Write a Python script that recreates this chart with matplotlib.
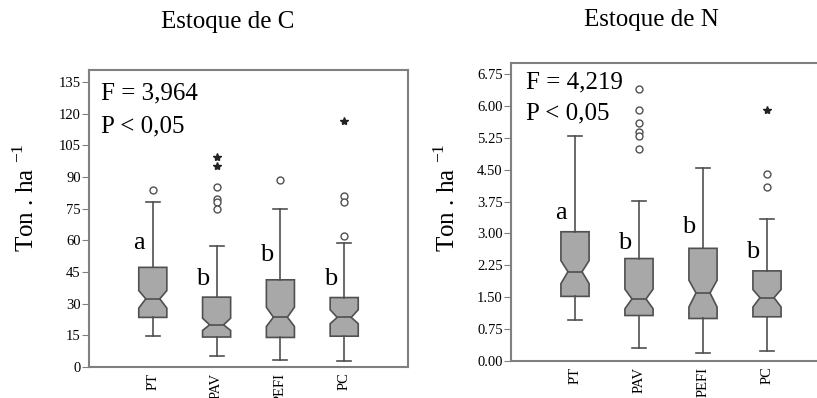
import matplotlib.pyplot as plt

plt.rcParams['font.family'] = ['Liberation Serif', 'DejaVu Serif']
plt.rcParams['mathtext.fontset'] = 'custom'
plt.rcParams['mathtext.rm'] = 'Liberation Serif'

groups = ['PT', 'PAV', 'PEFI', 'PC']
letters = ['a', 'b', 'b', 'b']

# carbon stock (Ton/ha): whislo, q1, med, q3, whishi, notch low, notch high
c_stats = [
    [14.5, 23.5, 32.3, 47.2, 78.0, 27.9, 36.2],
    [5.0, 14.2, 20.0, 33.1, 57.5, 17.3, 23.1],
    [3.1, 14.0, 23.6, 41.3, 74.8, 19.2, 28.3],
    [3.0, 14.6, 23.5, 32.9, 58.9, 20.5, 27.1],
]
c_out = [[83.8], [85.4, 79.4, 78.3, 74.8], [88.8], [62.2, 81.1, 78.0]]
c_ext = [[], [99.5, 95.1], [], [116.5]]
c_letter_y = [58.8, 41.7, 53.0, 41.7]

# nitrogen stock (Ton/ha)
n_stats = [
    [0.97, 1.52, 2.10, 3.04, 5.29, 1.82, 2.36],
    [0.31, 1.07, 1.46, 2.41, 3.76, 1.23, 1.69],
    [0.19, 1.00, 1.60, 2.65, 4.55, 1.27, 1.90],
    [0.24, 1.04, 1.49, 2.12, 3.35, 1.27, 1.68],
]
n_out = [[], [6.41, 5.90, 5.59, 5.39, 5.30, 4.98], [], [4.40, 4.10]]
n_ext = [[], [], [], [5.90]]
n_letter_y = [3.48, 2.78, 3.15, 2.56]


def panel(ax, stats, outs, exts, ly, ymax, ticks, fmt, ftxt, fpos, lab_xy):
    bx = []
    for s, o in zip(stats, outs):
        bx.append(dict(whislo=s[0], q1=s[1], med=s[2], q3=s[3], whishi=s[4],
                       cilo=s[5], cihi=s[6], fliers=o))
    pos = range(1, len(stats) + 1)
    ax.bxp(bx, positions=pos, widths=0.44, shownotches=True, patch_artist=True,
           boxprops=dict(facecolor='#a8a8a8', edgecolor='#505050', linewidth=1.2),
           medianprops=dict(color='#505050', linewidth=1.2),
           whiskerprops=dict(color='#505050', linewidth=1.2),
           capprops=dict(color='#505050', linewidth=1.2),
           flierprops=dict(marker='o', markerfacecolor='white', markeredgecolor='#505050',
                           markersize=5, markeredgewidth=1))
    for p, e in zip(pos, exts):
        if e:
            ax.plot([p] * len(e), e, linestyle='none', marker='*', color='#222222', markersize=6)
    for p, t, y in zip(pos, letters, ly):
        ax.text(p - 0.22, y, t, fontsize=19, ha='center', va='center')
    ax.set_xlim(0, 5)
    ax.set_ylim(0, ymax)
    ax.set_xticks(list(pos))
    ax.set_xticklabels(groups, rotation=90, fontsize=10.5)
    ax.set_yticks(ticks)
    ax.set_yticklabels([fmt.format(t) for t in ticks], fontsize=10.5)
    for sp in ax.spines.values():
        sp.set_color('#808080')
        sp.set_linewidth(1.5)
    ax.tick_params(axis='y', length=5, color='#808080', pad=1)
    ax.tick_params(axis='x', length=0, pad=4)
    ax.text(fpos[0], fpos[1], ftxt[0], transform=ax.transAxes,
            fontsize=18, ha='left', va='baseline')
    ax.text(fpos[0], fpos[2], ftxt[1], transform=ax.transAxes,
            fontsize=18, ha='left', va='baseline')
    ax.set_ylabel('Ton . ha $^{\\mathregular{-1}}$', fontsize=18)
    ax.yaxis.set_label_coords(*lab_xy)


fig = plt.figure(figsize=(8.17, 3.98), dpi=100)
ax1 = fig.add_axes([89 / 817, 1 - 367 / 398, 319 / 817, 297 / 398])
ax2 = fig.add_axes([511 / 817, 1 - 361 / 398, 320 / 817, 298 / 398])

panel(ax1, c_stats, c_out, c_ext, c_letter_y, 140.7, list(range(0, 136, 15)), '{:d}',
      ['F = 3,964', 'P < 0,05'], (0.037, 0.90, 0.79), (-0.156, 0.57))
panel(ax2, n_stats, n_out, n_ext, n_letter_y, 7.01, [i * 0.75 for i in range(10)], '{:.2f}',
      ['F = 4,219', 'P < 0,05'], (0.047, 0.916, 0.812), (-0.158, 0.547))

fig.text(228 / 817, 1 - 28 / 398, 'Estoque de C', fontsize=18, ha='center', va='baseline')
fig.text(651 / 817, 1 - 26 / 398, 'Estoque de N', fontsize=18, ha='center', va='baseline')

fig.savefig('out.png', dpi=100)
